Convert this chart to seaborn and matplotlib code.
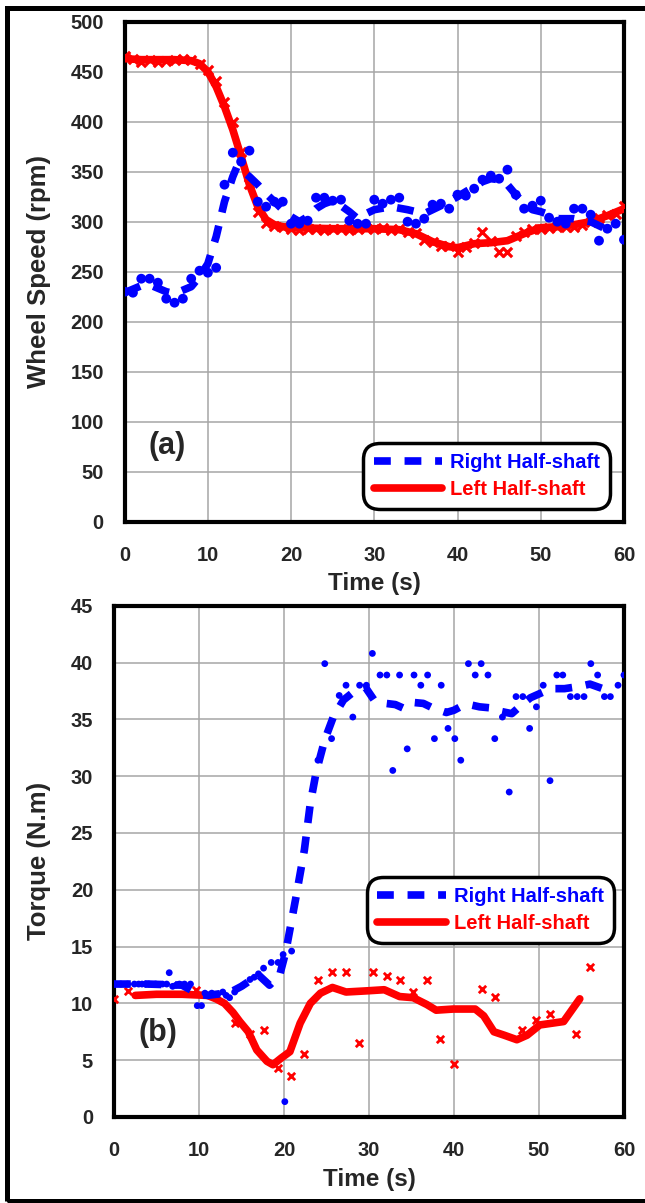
import numpy as np
import pandas as pd
import seaborn as sns
import matplotlib.pyplot as plt
from matplotlib.patches import Rectangle

# ---- (a) wheel speed data ----
speed_red_line_t = [0, 2, 4, 6, 8, 9, 10, 11, 12, 13, 14, 15, 16, 17, 18, 19, 20, 25, 30,
                    33, 35, 37, 39, 40, 42, 44, 46, 48, 50, 52, 54, 56, 58, 60]
speed_red_line_v = [463, 462, 462, 462, 461, 458, 450, 435, 415, 392, 365, 337, 315, 302, 297,
                    295, 294, 293, 293, 292, 288, 280, 275, 274, 278, 279, 281, 288, 294, 295,
                    297, 300, 306, 313]

speed_red_pts_t = list(range(0, 61))
speed_red_pts_v = [466, 463, 460, 462, 460, 461, 462, 463, 462, 458, 452, 441, 420, 400, 370,
                   338, 310, 299, 296, 295, 293, 292, 293, 293, 292, 293, 293, 292, 293, 294,
                   293, 294, 292, 293, 290, 289, 282, 280, 276, 276, 270, 275, 279, 290, 281,
                   270, 270, 286, 290, 293, 293, 294, 295, 295, 295, 297, 300, 304, 307, 308, 316]

speed_blue_line_t = [0, 2, 3, 5, 6, 8, 9, 10, 11, 12, 13, 13.5, 14, 15, 16, 17, 18, 19, 20, 21,
                     22, 23, 24, 25, 26, 27, 28, 29, 30, 32, 34, 36, 38, 40, 42, 43, 44, 45,
                     46, 47, 48, 49, 50, 51, 52, 54, 56, 58]
speed_blue_line_v = [229, 236, 237, 230, 228, 235, 245, 258, 285, 320, 345, 355, 352, 345, 337,
                     328, 320, 312, 305, 300, 305, 313, 318, 321, 316, 310, 303, 308, 312, 315,
                     312, 308, 316, 325, 335, 340, 343, 342, 337, 327, 318, 312, 310, 307, 303,
                     303, 300, 292]

speed_blue_pts_t = list(range(0, 61))
speed_blue_pts_v = [230, 229, 243, 243, 239, 223, 219, 223, 243, 251, 249, 254, 337, 369, 360,
                    371, 320, 315, 320, 320, 298, 298, 301, 324, 324, 321, 322, 301, 298, 298,
                    322, 318, 322, 324, 300, 298, 303, 317, 318, 313, 327, 326, 333, 342, 346,
                    343, 352, 327, 313, 316, 321, 304, 300, 298, 313, 313, 307, 281, 293, 298, 282]

# ---- (b) torque data ----
torque_red_line_t = [2.5, 5, 8, 11, 12, 13, 14, 14.8, 15.8, 16.8, 18, 18.7, 19.7, 20.7, 21.9,
                     23.1, 24.3, 25.7, 27.3, 29.7, 31.8, 33.6, 35.2, 36.8, 37.9, 39.9, 42.5,
                     43.5, 44.7, 45.9, 47.4, 48.6, 50.1, 52.9, 54.8]
torque_red_line_v = [10.7, 10.8, 10.8, 10.7, 10.4, 10.0, 9.2, 8.4, 7.5, 5.9, 4.9, 4.6, 5.2, 5.75,
                     8.25, 10.0, 10.9, 11.4, 11.0, 11.1, 11.2, 10.6, 10.5, 9.9, 9.4, 9.5, 9.5,
                     8.9, 7.5, 7.2, 6.8, 7.2, 8.1, 8.4, 10.4]

torque_red_pts_t = [0.0, 1.7, 9.6, 14.2, 16.0, 17.6, 19.3, 20.8, 22.4, 24.0, 25.6, 27.3, 28.8,
                    30.5, 32.1, 33.6, 35.2, 36.8, 38.4, 40.0, 43.3, 44.8, 48.0, 49.6, 51.3,
                    54.4, 56.0]
torque_red_pts_v = [10.4, 11.1, 11.2, 8.3, 7.3, 7.7, 4.3, 3.6, 5.5, 12.1, 12.8, 12.8, 6.5, 12.8,
                    12.4, 12.1, 11.0, 12.1, 6.9, 4.7, 11.3, 10.6, 7.7, 8.5, 9.1, 7.3, 13.2]

torque_blue_line_t = [0, 4, 8, 9, 10, 11, 12, 13, 14, 15, 16, 17, 18.3, 19.5, 20.2, 20.7, 21.4,
                      22.4, 23.1, 23.8, 24.8, 25.8, 27, 28.5, 29.6, 30.6, 32, 33.1, 34, 35, 36.4,
                      37.5, 39.1, 40, 41, 41.8, 43, 44.4, 45.5, 46.8, 48, 49, 50.5, 51.7, 53,
                      54.8, 56, 57.5]
torque_blue_line_v = [11.7, 11.7, 11.6, 11.2, 10.8, 10.7, 10.8, 10.9, 11.1, 11.5, 12.0, 12.5,
                      11.6, 12.5, 14.5, 16.5, 19.3, 23.5, 27.6, 30.4, 33.2, 35.2, 36.7, 37.6,
                      37.8, 36.7, 36.4, 36.3, 36.0, 36.5, 36.4, 36.0, 35.6, 35.8, 36.2, 36.3,
                      36.1, 36.0, 35.7, 35.5, 36.3, 36.9, 37.4, 37.7, 37.7, 37.9, 38.1, 37.7]

torque_blue_pts_t = [0, 0.8, 1.6, 2.4, 2.9, 3.3, 3.7, 4.1, 4.9, 5.7, 6.2, 6.5, 6.9, 7.3, 7.7,
                     8.3, 9.0, 9.8, 10.3, 10.7, 11.5, 12.2, 12.8, 13.2, 13.6, 14.2, 15.2, 16.0,
                     16.5, 17.0, 17.6, 18.5, 19.3, 19.9, 20.1, 20.9,
                     24.0, 24.8, 25.6, 26.5, 27.3, 28.1, 28.9, 29.7, 30.4, 31.3, 32.1, 32.8,
                     33.6, 34.5, 35.3, 36.1, 36.9, 37.7, 38.5, 39.3, 40.1, 40.8, 41.7, 42.5,
                     43.2, 44.0, 44.8, 45.7, 46.5, 47.3, 48.1, 48.9, 49.7, 50.5, 51.3, 52.1,
                     52.8, 53.7, 54.5, 55.3, 56.1, 56.9, 57.7, 58.4, 59.3, 60.0]
torque_blue_pts_v = [11.7, 11.7, 11.7, 11.7, 11.7, 11.7, 11.7, 11.7, 11.7, 11.7, 11.7, 12.7,
                     11.5, 11.6, 11.7, 11.7, 11.7, 9.8, 9.8, 10.9, 10.9, 10.8, 11.0, 10.7, 10.5,
                     11.0, 11.6, 12.1, 12.3, 12.6, 13.1, 13.6, 13.6, 14.3, 1.35, 14.6,
                     31.4, 39.9, 33.3, 37.1, 38.0, 35.2, 38.0, 38.0, 40.8, 38.9, 38.9, 30.5,
                     38.9, 32.4, 38.9, 38.0, 38.9, 33.3, 38.0, 34.2, 33.3, 31.4, 39.9, 38.9,
                     39.9, 38.9, 33.3, 35.2, 28.6, 37.0, 37.0, 34.2, 36.1, 38.0, 29.6, 38.9,
                     38.9, 37.0, 37.0, 37.0, 39.9, 38.9, 37.0, 37.0, 38.0, 38.9]

sns.set_style("white")
plt.rcParams['font.family'] = ['Liberation Sans', 'DejaVu Sans']
plt.rcParams['font.weight'] = 'bold'
plt.rcParams['axes.labelweight'] = 'bold'

fig = plt.figure(figsize=(6.45, 12.03), dpi=100)
ax_a = fig.add_axes([0.1932, 0.5663, 0.7742, 0.4157])
ax_b = fig.add_axes([0.1767, 0.0715, 0.7907, 0.4250])

dash = (0, (2.2, 1.8))


def style_axis(ax, ymax, ymajor, yminor, ylabel, ylab_x):
    ax.set_xlim(0, 60)
    ax.set_ylim(0, ymax)
    ax.set_xticks(np.arange(0, 61, 10))
    ax.set_xticks(np.arange(0, 61, 5), minor=True)
    ax.set_yticks(np.arange(0, ymax + 0.01, ymajor))
    ax.set_yticks(np.arange(0, ymax + 0.01, yminor), minor=True)
    ax.grid(True, which='major', color='#a6a6a6', lw=1.1, zorder=0)
    ax.set_axisbelow(True)
    for s in ax.spines.values():
        s.set_visible(True)
        s.set_linewidth(3)
        s.set_color('black')
    ax.tick_params(axis='x', which='major', direction='out', length=9.5, width=2.2,
                   pad=8, labelsize=14.5, top=False)
    ax.tick_params(axis='x', which='minor', direction='out', length=5, width=2.2, top=False)
    ax.tick_params(axis='y', which='major', direction='out', length=11, width=2.2,
                   pad=4, labelsize=14.5, right=False)
    ax.tick_params(axis='y', which='minor', direction='out', length=6, width=2.2, right=False)
    for lab in ax.get_xticklabels() + ax.get_yticklabels():
        lab.set_fontweight('bold')
    ax.set_xlabel('Time (s)', fontsize=17.5, fontweight='bold')
    ax.set_ylabel(ylabel, fontsize=18.5, fontweight='bold')
    ax.xaxis.set_label_coords(0.5, -0.1)
    ax.yaxis.set_label_coords(ylab_x, 0.5)


def legend(ax, loc, anchor):
    leg = ax.legend(loc=loc, bbox_to_anchor=anchor, fontsize=14.5, handlelength=3.4,
                    handletextpad=0.4, borderpad=0.5, labelspacing=0.4, frameon=True,
                    fancybox=True, framealpha=1, borderaxespad=0)
    fr = leg.get_frame()
    fr.set_edgecolor('black')
    fr.set_linewidth(2.5)
    fr.set_boxstyle('round', pad=0, rounding_size=0.8)
    for txt, c in zip(leg.get_texts(), ['blue', 'red']):
        txt.set_color(c)
        txt.set_fontweight('bold')


# ---- panel (a) ----
sns.lineplot(x=speed_red_line_t, y=speed_red_line_v, ax=ax_a, color='red', lw=5.5,
             zorder=3, label='_nolegend_')
sns.scatterplot(x=speed_red_pts_t, y=speed_red_pts_v, ax=ax_a, color='red', marker='x',
                s=45, linewidth=2.3, zorder=4)
sns.lineplot(x=speed_blue_line_t, y=speed_blue_line_v, ax=ax_a, color='blue', lw=5.5,
             linestyle=dash, zorder=5, label='_nolegend_')
sns.scatterplot(x=speed_blue_pts_t, y=speed_blue_pts_v, ax=ax_a, color='blue', marker='o',
                s=50, edgecolor='none', zorder=6)
ax_a.plot([], [], color='blue', lw=5.5, linestyle=dash, label='Right Half-shaft')
ax_a.plot([], [], color='red', lw=5.5, label='Left Half-shaft')
style_axis(ax_a, 500, 50, 25, 'Wheel Speed (rpm)', -0.147)
legend(ax_a, 'lower right', (0.972, 0.025))
ax_a.text(0.085, 0.151, '(a)', transform=ax_a.transAxes, fontsize=22, fontweight='bold',
          ha='center', va='center')

# ---- panel (b) ----
sns.lineplot(x=torque_red_line_t, y=torque_red_line_v, ax=ax_b, color='red', lw=5.5,
             zorder=3, label='_nolegend_')
sns.scatterplot(x=torque_red_pts_t, y=torque_red_pts_v, ax=ax_b, color='red', marker='x',
                s=28, linewidth=2, zorder=4)
sns.lineplot(x=torque_blue_line_t, y=torque_blue_line_v, ax=ax_b, color='blue', lw=5.5,
             linestyle=dash, zorder=5, label='_nolegend_')
sns.scatterplot(x=torque_blue_pts_t, y=torque_blue_pts_v, ax=ax_b, color='blue', marker='o',
                s=24, edgecolor='none', zorder=6)
ax_b.plot([], [], color='blue', lw=5.5, linestyle=dash, label='Right Half-shaft')
ax_b.plot([], [], color='red', lw=5.5, label='Left Half-shaft')
style_axis(ax_b, 45, 5, 2.5, 'Torque (N.m)', -0.124)
legend(ax_b, 'upper right', (0.98, 0.47))
ax_b.text(0.086, 0.164, '(b)', transform=ax_b.transAxes, fontsize=22, fontweight='bold',
          ha='center', va='center')

# outer frame (right side runs off the image)
fig.patches.append(Rectangle((7 / 645, 2.5 / 1203), 1.2, 1 - 10 / 1203,
                             transform=fig.transFigure, fill=False, lw=3.6,
                             edgecolor='black', zorder=10))

fig.savefig('out.png', dpi=100)
